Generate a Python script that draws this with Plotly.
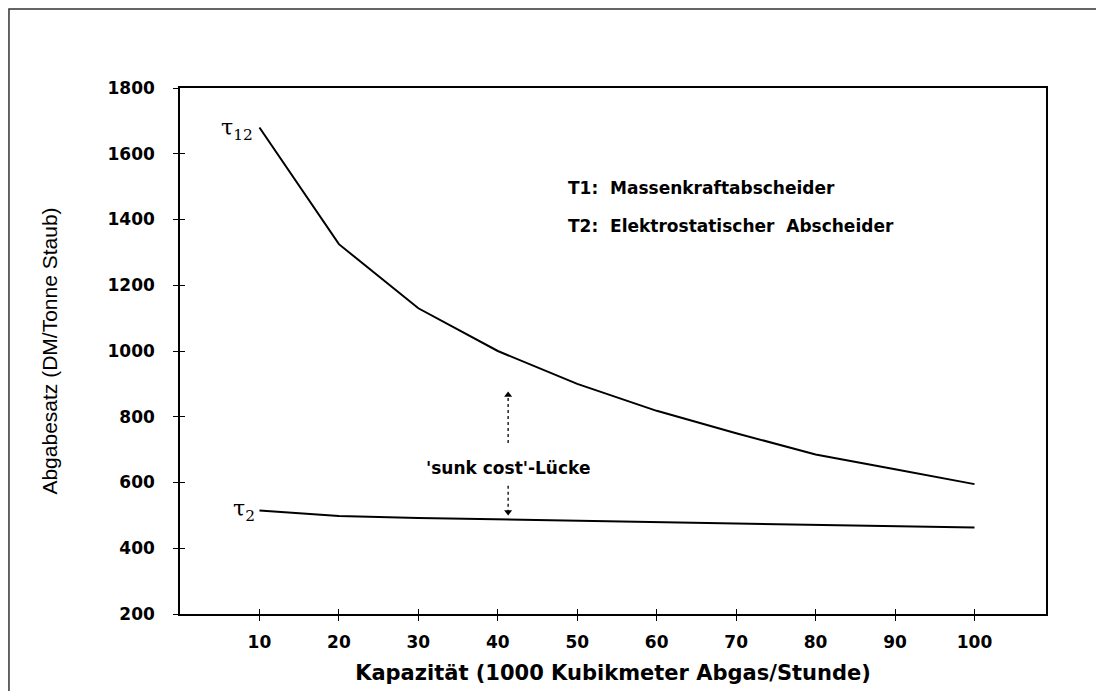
import plotly.graph_objects as go

# ---- data ----
capacity = [10, 20, 30, 40, 50, 60, 70, 80, 90, 100]
tau12 = [1680, 1325, 1130, 1000, 900, 818, 750, 685, 640, 595]
tau2 = [515, 498, 492, 488, 484, 479, 474, 470, 467, 463]

x_ticks = [10, 20, 30, 40, 50, 60, 70, 80, 90, 100]
y_ticks = [200, 400, 600, 800, 1000, 1200, 1400, 1600, 1800]

gap_x = 41.3
gap_upper = [720, 866]
gap_upper_head = 866
gap_lower = [590, 510]
gap_lower_head = 510
gap_label_y = 645

legend_lines = ["T1:  Massenkraftabscheider", "T2:  Elektrostatischer  Abscheider"]
legend_y = [1496, 1380]
legend_x = 48.6

X_RANGE = [0, 109]
Y_RANGE = [200, 1800]

txt_font = dict(family="DejaVu Sans", size=17, color="black", weight="bold")
tick_font = dict(family="DejaVu Sans", size=17, color="black", weight="bold")

fig = go.Figure()
fig.add_trace(go.Scatter(x=capacity, y=tau12, mode="lines",
                         line=dict(color="black", width=2), showlegend=False, hoverinfo="skip"))
fig.add_trace(go.Scatter(x=capacity, y=tau2, mode="lines", xaxis="x2", yaxis="y2",
                         line=dict(color="black", width=2), showlegend=False, hoverinfo="skip"))
# 'sunk cost' gap arrows (dotted shafts with heads)
fig.add_trace(go.Scatter(x=[gap_x, gap_x], y=gap_upper, mode="lines",
                         line=dict(color="black", width=1.3, dash="dot"), showlegend=False, hoverinfo="skip"))
fig.add_trace(go.Scatter(x=[gap_x, gap_x], y=gap_lower, mode="lines",
                         line=dict(color="black", width=1.3, dash="dot"), showlegend=False, hoverinfo="skip"))
fig.add_trace(go.Scatter(x=[gap_x, gap_x], y=[gap_upper_head, gap_lower_head], mode="markers",
                         marker=dict(symbol=["triangle-up", "triangle-down"], size=7, color="black"),
                         showlegend=False, hoverinfo="skip"))

axis_common = dict(showgrid=False, zeroline=False, showline=True, linecolor="black",
                   linewidth=1.5, mirror=True, ticks="outside", ticklen=5, tickwidth=1.2,
                   tickcolor="black", tickfont=tick_font, automargin=False)

# page body adds an 8px offset, so the figure is drawn 8px smaller
fig.update_layout(
    width=1096, height=683,
    margin=dict(l=172, r=58, t=80, b=77),
    paper_bgcolor="white", plot_bgcolor="white",
    xaxis=dict(range=X_RANGE, tickvals=x_ticks, ticklabelstandoff=7,
               title=dict(text="Kapazität (1000 Kubikmeter Abgas/Stunde)",
                          font=dict(family="DejaVu Sans", size=21, color="black", weight="bold"),
                          standoff=14),
               **axis_common),
    yaxis=dict(range=Y_RANGE, tickvals=y_ticks, ticklabelstandoff=15,
               title=dict(text="Abgabesatz (DM/Tonne Staub)",
                          font=dict(family="Liberation Sans", size=21, color="black"),
                          standoff=44),
               **axis_common),
    xaxis2=dict(range=X_RANGE, tickvals=x_ticks, overlaying="x", anchor="y2", side="bottom",
                ticks="inside", ticklen=5, tickwidth=1.2, tickcolor="black",
                showticklabels=False, showgrid=False, zeroline=False, showline=False),
    yaxis2=dict(range=Y_RANGE, tickvals=y_ticks, overlaying="y", anchor="x2", side="left",
                ticks="inside", ticklen=5, tickwidth=1.2, tickcolor="black",
                showticklabels=False, showgrid=False, zeroline=False, showline=False),
)

annotations = [
    dict(x=capacity[0], y=tau12[0], xref="x", yref="y", text="τ<sub>12</sub>", showarrow=False,
         xanchor="right", yanchor="middle", xshift=-4, yshift=-2,
         font=dict(family="DejaVu Serif", size=22, color="black")),
    dict(x=capacity[0], y=tau2[0], xref="x", yref="y", text="τ<sub>2</sub>", showarrow=False,
         xanchor="right", yanchor="middle", xshift=-2, yshift=0,
         font=dict(family="DejaVu Serif", size=22, color="black")),
    dict(x=gap_x, y=gap_label_y, xref="x", yref="y", text="'sunk cost'-Lücke", showarrow=False,
         xanchor="center", yanchor="middle", font=txt_font),
]
for t, yy in zip(legend_lines, legend_y):
    annotations.append(dict(x=legend_x, y=yy, xref="x", yref="y", text=t, showarrow=False,
                            xanchor="left", yanchor="middle", font=txt_font))
fig.update_layout(annotations=annotations)

# outer frame of the scanned page (left and top edges only are visible)
fig.add_shape(type="path", xref="paper", yref="paper",
              path="M -0.1975,-0.3 L -0.1975,1.150 L 1.25,1.150",
              line=dict(color="#333333", width=1.5))

fig.write_html("out.html")
